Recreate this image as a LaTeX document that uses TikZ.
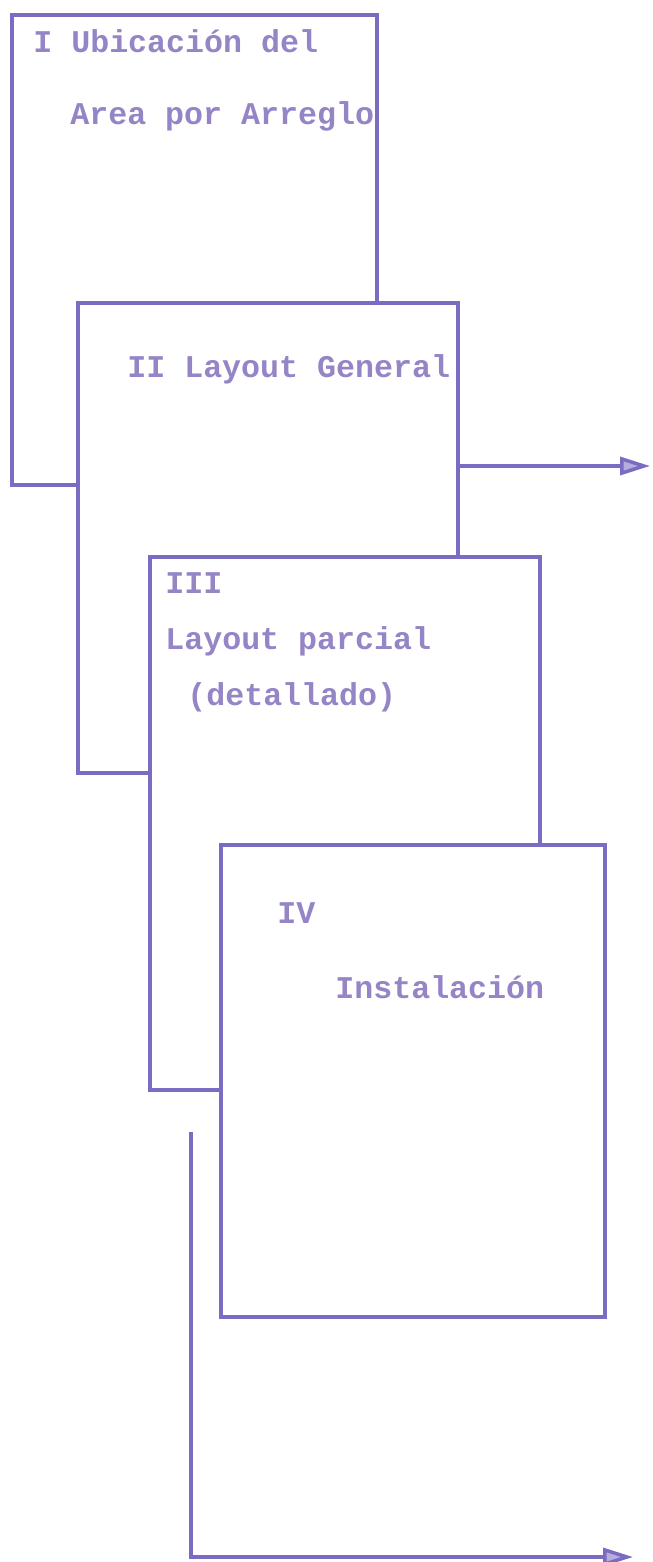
\documentclass[tikz,border=0pt]{standalone}
\usepackage{fontspec}
\setmonofont{Liberation Mono}
\usetikzlibrary{arrows.meta}
\definecolor{CL}{HTML}{7B6BC2}
\definecolor{CT}{HTML}{9585C6}
\tikzset{
	bx/.style = {draw=CL, fill=white, line width=2pt, inner sep=0pt,
		minimum width=#1},
	tx/.style = {anchor=base west, inner sep=0pt, text=CT,
		font=\fontsize{18}{22}\selectfont\ttfamily\bfseries},
	ar/.style = {-{Triangle[length=0.60cm, width=0.36cm, fill=CL!55]},
		draw=CL, line width=2pt},
}
\begin{document}
\begin{tikzpicture}
	\useasboundingbox (0,0) rectangle (13.06,-31.24);
	
	%%═══════════════════════════════════════════════════════════════════
	%% FOUR STAGE SHEETS  (each one laid over the one before)
	%%   I   : x = 0.24 … 7.54   y = -0.30 … -9.70
	%%   II  : x = 1.56 … 9.16   y = -6.06 … -15.46
	%%   III : x = 3.00 … 10.80  y = -11.14 … -21.80
	%%   IV  : x = 4.42 … 12.10  y = -16.90 … -26.34
	%%═══════════════════════════════════════════════════════════════════
	
	%% I ───────────────────────────────────────────────────────────────
	\node[bx=7.30cm, minimum height=9.40cm] (boxI) at (3.89, -5.00) {};
	\node[tx] (tI)  at (0.66, -1.06) {I Ubicación del};
	\node[tx] (tIa) at (1.40, -2.50) {Area por Arreglo};
	
	%% II ──────────────────────────────────────────────────────────────
	\node[bx=7.60cm, minimum height=9.40cm] (boxII) at (5.36, -10.76) {};
	\node[tx] (tII) at (2.54, -7.54) {II Layout General};
	
	%% III ─────────────────────────────────────────────────────────────
	\node[bx=7.80cm, minimum height=10.66cm] (boxIII) at (6.90, -16.47) {};
	\node[tx] (tIII)  at (3.30, -11.86) {III};
	\node[tx] (tIIIa) at (3.30, -12.98) {Layout parcial};
	\node[tx] (tIIIb) at (3.74, -14.10) {(detallado)};
	
	%% IV ──────────────────────────────────────────────────────────────
	\node[bx=7.68cm, minimum height=9.44cm] (boxIV) at (8.26, -21.62) {};
	\node[tx] (tIV)  at (5.54, -18.46) {IV};
	\node[tx] (tIVa) at (6.70, -19.96) {Instalación};
	
	%%═══════════════════════════════════════════════════════════════════
	%% OUTGOING ARROWS
	%%═══════════════════════════════════════════════════════════════════
	\coordinate (outII)  at (13.00, -9.32);
	\coordinate (retIII) at (3.82, -22.64);
	\coordinate (outIII) at (12.66, -31.14);
	
	\draw[ar] (boxII.east |- outII) -- (outII);
	\draw[ar] (retIII) |- (outIII);
	
\end{tikzpicture}
\end{document}
